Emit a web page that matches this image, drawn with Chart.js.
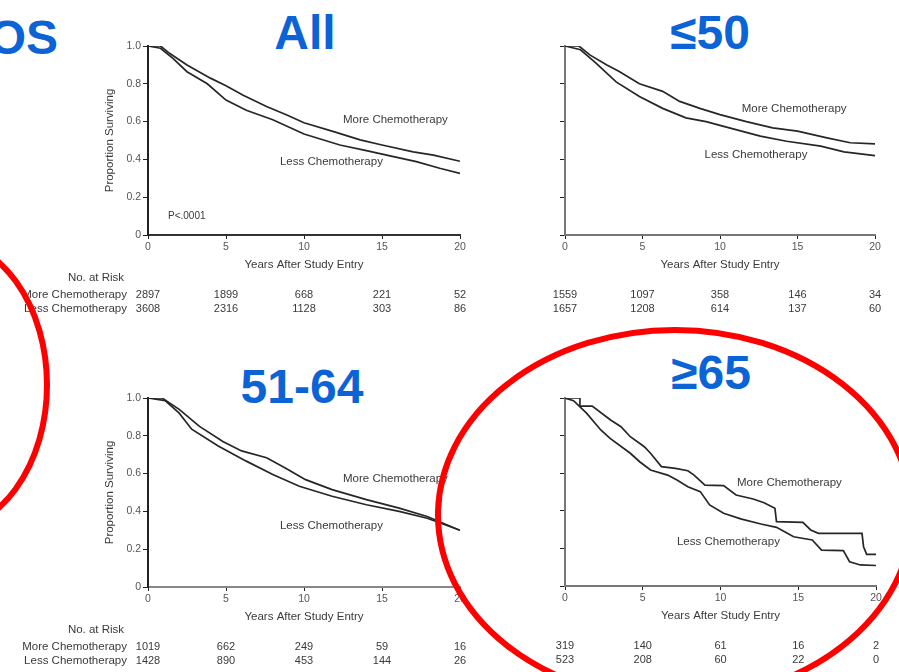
<!DOCTYPE html>
<html>
<head>
<meta charset="utf-8">
<script src="https://cdn.jsdelivr.net/npm/chart.js@4.4.0/dist/chart.umd.min.js"></script>
<style>
body{margin:0;background:#fff;width:899px;height:672px;overflow:hidden;position:relative;font-family:"Liberation Sans",Arial,sans-serif}
canvas{position:absolute}
.ttl{position:absolute;width:200px;color:#0b63d6;font-weight:bold;font-size:48px;line-height:48px;white-space:nowrap;text-align:center}
svg{position:absolute;left:0;top:0}
</style>
</head>
<body>
<div class="ttl" style="left:-142px;top:14px;text-align:right">OS</div>
<div class="ttl" style="left:205px;top:9px">All</div>
<div class="ttl" style="left:610px;top:9px">≤50</div>
<div class="ttl" style="left:202px;top:363px">51-64</div>
<div class="ttl" style="left:611px;top:349px">≥65</div>

<canvas id="pAll"></canvas>
<canvas id="pLe50"></canvas>
<canvas id="pMid"></canvas>
<canvas id="pOld"></canvas>

<svg width="899" height="672">
  <ellipse cx="-60" cy="385" rx="107" ry="147" fill="none" stroke="#ff0000" stroke-width="6"/>
  <ellipse cx="675" cy="515" rx="237" ry="185" fill="none" stroke="#ff0000" stroke-width="6"/>
</svg>

<script>
// years after study entry where numbers at risk are given
const riskYears = [0, 5, 10, 15, 20];

// All patients
const allMoreYears = [0, 0.8, 1.4, 2.5, 4, 5, 6.1, 7.6, 8.9, 10, 11.9, 13.6, 15, 17, 18.3, 20];
const allMoreSurv  = [1, 1, 0.96, 0.9, 0.83, 0.79, 0.74, 0.68, 0.635, 0.594, 0.547, 0.503, 0.476, 0.44, 0.423, 0.39];
const allLessYears = [0, 0.8, 1.6, 2.5, 3.8, 5, 6.3, 8, 10, 12.3, 14, 15.3, 17.2, 18.7, 20];
const allLessSurv  = [1, 0.988, 0.935, 0.864, 0.8, 0.714, 0.66, 0.61, 0.534, 0.476, 0.446, 0.423, 0.388, 0.353, 0.326];
const allMoreRisk = [2897, 1899, 668, 221, 52];
const allLessRisk = [3608, 2316, 1128, 303, 86];

// age <= 50
const le50MoreYears = [0, 0.9, 1.6, 2.7, 3.5, 4.8, 6.3, 7.4, 8.7, 10, 11.7, 13.4, 15, 16.9, 18.4, 20];
const le50MoreSurv  = [1, 1, 0.953, 0.9, 0.865, 0.8, 0.76, 0.707, 0.67, 0.637, 0.6, 0.567, 0.55, 0.514, 0.488, 0.482];
const le50LessYears = [0, 1, 2, 3.3, 4.8, 6.3, 7.8, 9.1, 10.6, 12.6, 14.3, 16.5, 18, 20];
const le50LessSurv  = [1, 0.98, 0.91, 0.81, 0.733, 0.67, 0.62, 0.6, 0.567, 0.523, 0.496, 0.47, 0.44, 0.42];
const le50MoreRisk = [1559, 1097, 358, 146, 34];
const le50LessRisk = [1657, 1208, 614, 137, 60];

// age 51-64
const midMoreYears = [0, 0.9, 2, 3.3, 4.8, 6, 7.6, 8.8, 10.1, 11.8, 14, 16.1, 17.9, 20];
const midMoreSurv  = [1, 1, 0.94, 0.85, 0.77, 0.72, 0.684, 0.63, 0.568, 0.515, 0.462, 0.417, 0.373, 0.3];
const midLessYears = [0, 1.1, 2, 2.8, 4.5, 6.3, 8, 9.7, 11.8, 14, 16.1, 17.9, 20];
const midLessSurv  = [1, 0.986, 0.92, 0.835, 0.746, 0.666, 0.595, 0.533, 0.48, 0.435, 0.4, 0.364, 0.3];
const midMoreRisk = [1019, 662, 249, 59, 16];
const midLessRisk = [1428, 890, 453, 144, 26];

// age >= 65
const oldMoreYears = [0, 0.96, 0.96, 1.75, 2.93, 3.6, 4.2, 5.1, 5.5, 6.2, 7.1, 7.9, 8.3, 9, 10.2, 11, 12.1, 12.8, 13.5, 13.6, 15.3, 15.8, 16.3, 19.1, 19.2, 19.4, 20];
const oldMoreSurv  = [1, 1, 0.957, 0.957, 0.883, 0.847, 0.794, 0.741, 0.706, 0.635, 0.626, 0.613, 0.59, 0.537, 0.534, 0.484, 0.463, 0.443, 0.413, 0.342, 0.338, 0.298, 0.28, 0.28, 0.209, 0.168, 0.168];
const oldLessYears = [0, 0.55, 1.4, 2.3, 2.9, 4.2, 4.8, 5.5, 6.6, 7.2, 7.9, 8.7, 9.3, 10.2, 11.3, 12.6, 13.6, 14.3, 14.7, 15.9, 16.5, 17.9, 18.3, 19, 20];
const oldLessSurv  = [1, 0.986, 0.918, 0.83, 0.785, 0.706, 0.661, 0.617, 0.59, 0.564, 0.528, 0.502, 0.431, 0.387, 0.357, 0.33, 0.312, 0.28, 0.262, 0.245, 0.191, 0.188, 0.129, 0.112, 0.109];
const oldMoreRisk = [319, 140, 61, 16, 2];
const oldLessRisk = [523, 208, 60, 22, 0];

const FONT = '"Liberation Sans", Arial, sans-serif';

// text around each panel: curve labels, axis titles, numbers at risk
const panelText = {
    id: 'panelText',
    afterDraw(chart, args, o) {
        const ctx = chart.ctx;
        const a = chart.chartArea;
        const x = chart.scales.x, y = chart.scales.y;
        ctx.save();
        ctx.fillStyle = '#3a3a3a';
        ctx.textBaseline = 'middle';
        ctx.textAlign = 'left';
        o.notes.forEach(n => {
            ctx.font = n.size + 'px ' + FONT;
            ctx.fillText(n.text, x.getPixelForValue(n.x), y.getPixelForValue(n.y));
        });
        ctx.font = '11.5px ' + FONT;
        ctx.textAlign = 'center';
        ctx.fillText('Years After Study Entry', (a.left + a.right) / 2, a.bottom + 30);
        if (o.rowLabels) {
            ctx.save();
            ctx.translate(a.left - 38, (a.top + a.bottom) / 2);
            ctx.rotate(-Math.PI / 2);
            ctx.fillText('Proportion Surviving', 0, 0);
            ctx.restore();
            ctx.fillText('No. at Risk', a.left - 52, a.bottom + 43);
            ctx.textAlign = 'right';
            ctx.fillText('More Chemotherapy', a.left - 21, a.bottom + 60);
            ctx.fillText('Less Chemotherapy', a.left - 21, a.bottom + 74);
        }
        ctx.textAlign = 'center';
        ctx.font = '11px ' + FONT;
        riskYears.forEach((yr, i) => {
            const px = x.getPixelForValue(yr);
            ctx.fillText(String(o.more[i]), px, a.bottom + 60);
            ctx.fillText(String(o.less[i]), px, a.bottom + 74);
        });
        ctx.restore();
    }
};

function pts(xs, ys) {
    return xs.map((v, i) => ({x: v, y: ys[i]}));
}

function makePanel(id, box, more, less, text, axisY, axisX) {
    const padL = 88, padT = 20, padR = 20, padB = 45, yW = 60, xH = 40;
    const cv = document.getElementById(id);
    cv.width = padL + yW + (box.r - box.l) + padR;
    cv.height = padT + (box.b - box.t) + xH + padB;
    cv.style.left = (box.l - padL - yW) + 'px';
    cv.style.top = (box.t - padT) + 'px';

    const tickFont = {family: FONT, size: 10.5};
    new Chart(cv.getContext('2d'), {
        type: 'line',
        data: {
            datasets: [
                {data: pts(more[0], more[1])},
                {data: pts(less[0], less[1])}
            ]
        },
        options: {
            responsive: false,
            animation: false,
            devicePixelRatio: 1,
            layout: {padding: {left: padL, top: padT, right: padR, bottom: padB}},
            elements: {
                point: {radius: 0},
                line: {borderWidth: 1.7, borderColor: '#262626', tension: 0}
            },
            plugins: {
                legend: {display: false},
                tooltip: {enabled: false},
                panelText: text
            },
            scales: {
                x: {
                    type: 'linear', min: 0, max: 20,
                    ticks: {stepSize: 5, font: tickFont, color: '#555', padding: 2, maxRotation: 0},
                    grid: {drawOnChartArea: false, tickLength: 4, color: '#222'},
                    border: {color: axisX, width: 2},
                    afterFit: s => { s.height = xH; }
                },
                y: {
                    min: 0, max: 1,
                    ticks: {
                        stepSize: 0.2, font: tickFont, color: '#555', padding: 2,
                        callback: v => text.rowLabels ? (v === 0 ? '0' : v.toFixed(1)) : ''
                    },
                    grid: {drawOnChartArea: false, tickLength: 5, color: '#222'},
                    border: {color: axisY, width: 2},
                    afterFit: s => { s.width = yW; }
                }
            }
        },
        plugins: [panelText]
    });
}

makePanel('pAll', {l: 148, t: 46, r: 460, b: 235},
    [allMoreYears, allMoreSurv], [allLessYears, allLessSurv],
    {rowLabels: true, more: allMoreRisk, less: allLessRisk, notes: [
        {text: 'More Chemotherapy', x: 12.5, y: 0.608, size: 11.5},
        {text: 'Less Chemotherapy', x: 8.46, y: 0.386, size: 11.5},
        {text: 'P<.0001', x: 1.28, y: 0.1, size: 10}
    ]}, '#222', '#333');

makePanel('pLe50', {l: 565, t: 46, r: 875, b: 235},
    [le50MoreYears, le50MoreSurv], [le50LessYears, le50LessSurv],
    {rowLabels: false, more: le50MoreRisk, less: le50LessRisk, notes: [
        {text: 'More Chemotherapy', x: 11.4, y: 0.667, size: 11.5},
        {text: 'Less Chemotherapy', x: 9.0, y: 0.423, size: 11.5}
    ]}, '#777', '#777');

makePanel('pMid', {l: 148, t: 398, r: 460, b: 587},
    [midMoreYears, midMoreSurv], [midLessYears, midLessSurv],
    {rowLabels: true, more: midMoreRisk, less: midLessRisk, notes: [
        {text: 'More Chemotherapy', x: 12.5, y: 0.571, size: 11.5},
        {text: 'Less Chemotherapy', x: 8.46, y: 0.323, size: 11.5}
    ]}, '#222', '#888');

makePanel('pOld', {l: 565, t: 398, r: 876, b: 586},
    [oldMoreYears, oldMoreSurv], [oldLessYears, oldLessSurv],
    {rowLabels: false, more: oldMoreRisk, less: oldLessRisk, notes: [
        {text: 'More Chemotherapy', x: 11.06, y: 0.548, size: 11.5},
        {text: 'Less Chemotherapy', x: 7.2, y: 0.234, size: 11.5}
    ]}, '#777', '#777');
</script>
</body>
</html>
